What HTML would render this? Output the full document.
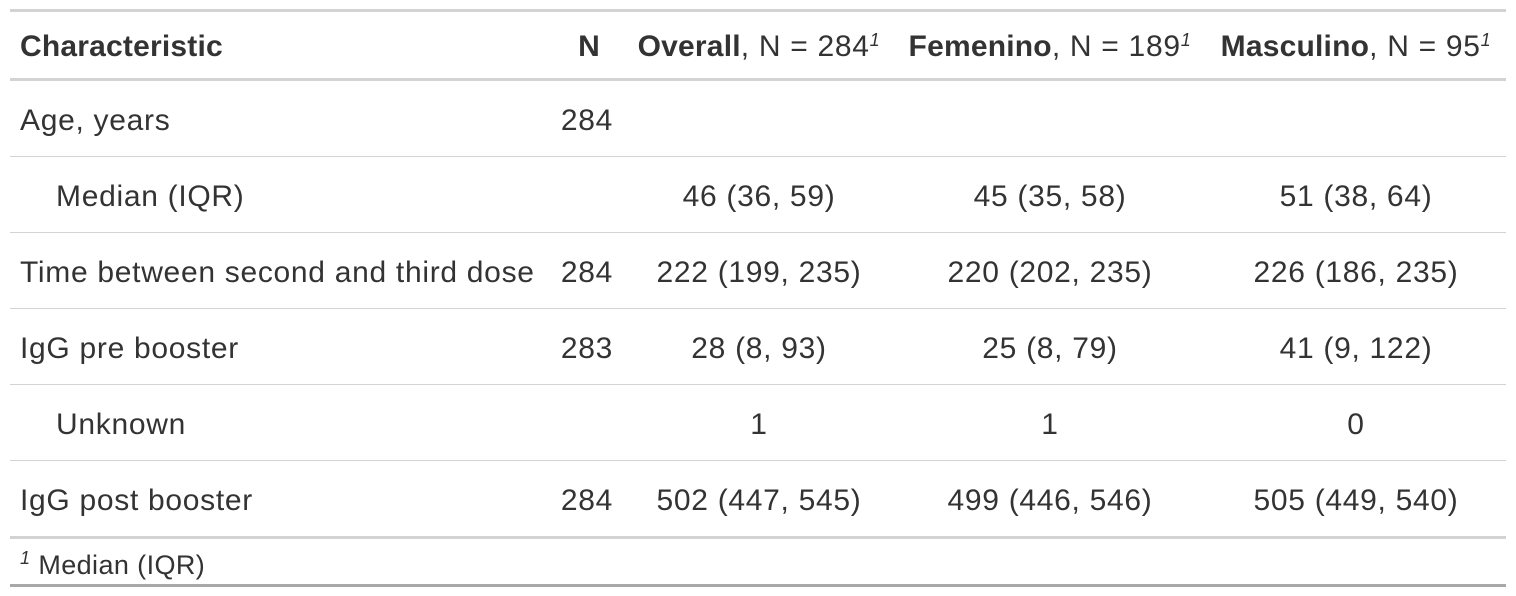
<!DOCTYPE html>
<html><head><meta charset="utf-8"><style>
body{margin:0;width:1516px;height:596px;background:#fff;font-family:"Liberation Sans",sans-serif;color:#333;overflow:hidden}
.l{position:absolute;left:10px;width:1496px;background:#d3d3d3}
.t{position:absolute;font-size:30px;line-height:34px;white-space:nowrap;letter-spacing:0.7px}
.c{transform:translateX(-50%)}
.r{transform:translateX(-100%)}
b{font-weight:bold;letter-spacing:0.2px}
sup{font-size:18px;font-style:italic;vertical-align:10px;line-height:0}
</style></head><body>
<div>
<div class="l" style="top:9px;height:3px;background:#d3d3d3"></div>
<div class="l" style="top:78px;height:3px"></div>
<div class="l" style="top:156px;height:1px"></div>
<div class="l" style="top:232px;height:1px"></div>
<div class="l" style="top:308px;height:1px"></div>
<div class="l" style="top:384px;height:1px"></div>
<div class="l" style="top:460px;height:1px"></div>
<div class="l" style="top:536px;height:3px"></div>
<div class="l" style="top:584px;height:3px;background:#a8a8a8"></div>

<div class="t" style="left:20px;top:30px"><b>Characteristic</b></div>
<div class="t r" style="left:600px;top:30px"><b>N</b></div>
<div class="t c" style="left:759px;top:30px"><b>Overall</b>, N = 284<sup>1</sup></div>
<div class="t c" style="left:1050px;top:30px"><b>Femenino</b>, N = 189<sup>1</sup></div>
<div class="t c" style="left:1356px;top:30px"><b>Masculino</b>, N = 95<sup>1</sup></div>

<div class="t" style="left:20px;top:104px">Age, years</div>
<div class="t r" style="left:613px;top:104px">284</div>

<div class="t" style="left:56px;top:180px">Median (IQR)</div>
<div class="t c" style="left:759px;top:180px">46 (36, 59)</div>
<div class="t c" style="left:1050px;top:180px">45 (35, 58)</div>
<div class="t c" style="left:1356px;top:180px">51 (38, 64)</div>

<div class="t" style="left:20px;top:256px">Time between second and third dose</div>
<div class="t r" style="left:613px;top:256px">284</div>
<div class="t c" style="left:759px;top:256px">222 (199, 235)</div>
<div class="t c" style="left:1050px;top:256px">220 (202, 235)</div>
<div class="t c" style="left:1356px;top:256px">226 (186, 235)</div>

<div class="t" style="left:20px;top:332px">IgG pre booster</div>
<div class="t r" style="left:613px;top:332px">283</div>
<div class="t c" style="left:759px;top:332px">28 (8, 93)</div>
<div class="t c" style="left:1050px;top:332px">25 (8, 79)</div>
<div class="t c" style="left:1356px;top:332px">41 (9, 122)</div>

<div class="t" style="left:56px;top:408px">Unknown</div>
<div class="t c" style="left:759px;top:408px">1</div>
<div class="t c" style="left:1050px;top:408px">1</div>
<div class="t c" style="left:1356px;top:408px">0</div>

<div class="t" style="left:20px;top:484px">IgG post booster</div>
<div class="t r" style="left:613px;top:484px">284</div>
<div class="t c" style="left:759px;top:484px">502 (447, 545)</div>
<div class="t c" style="left:1050px;top:484px">499 (446, 546)</div>
<div class="t c" style="left:1356px;top:484px">505 (449, 540)</div>

<div class="t" style="left:20px;top:548px;font-size:27px;letter-spacing:0.4px"><sup>1</sup> Median (IQR)</div>
</div>
</body></html>
